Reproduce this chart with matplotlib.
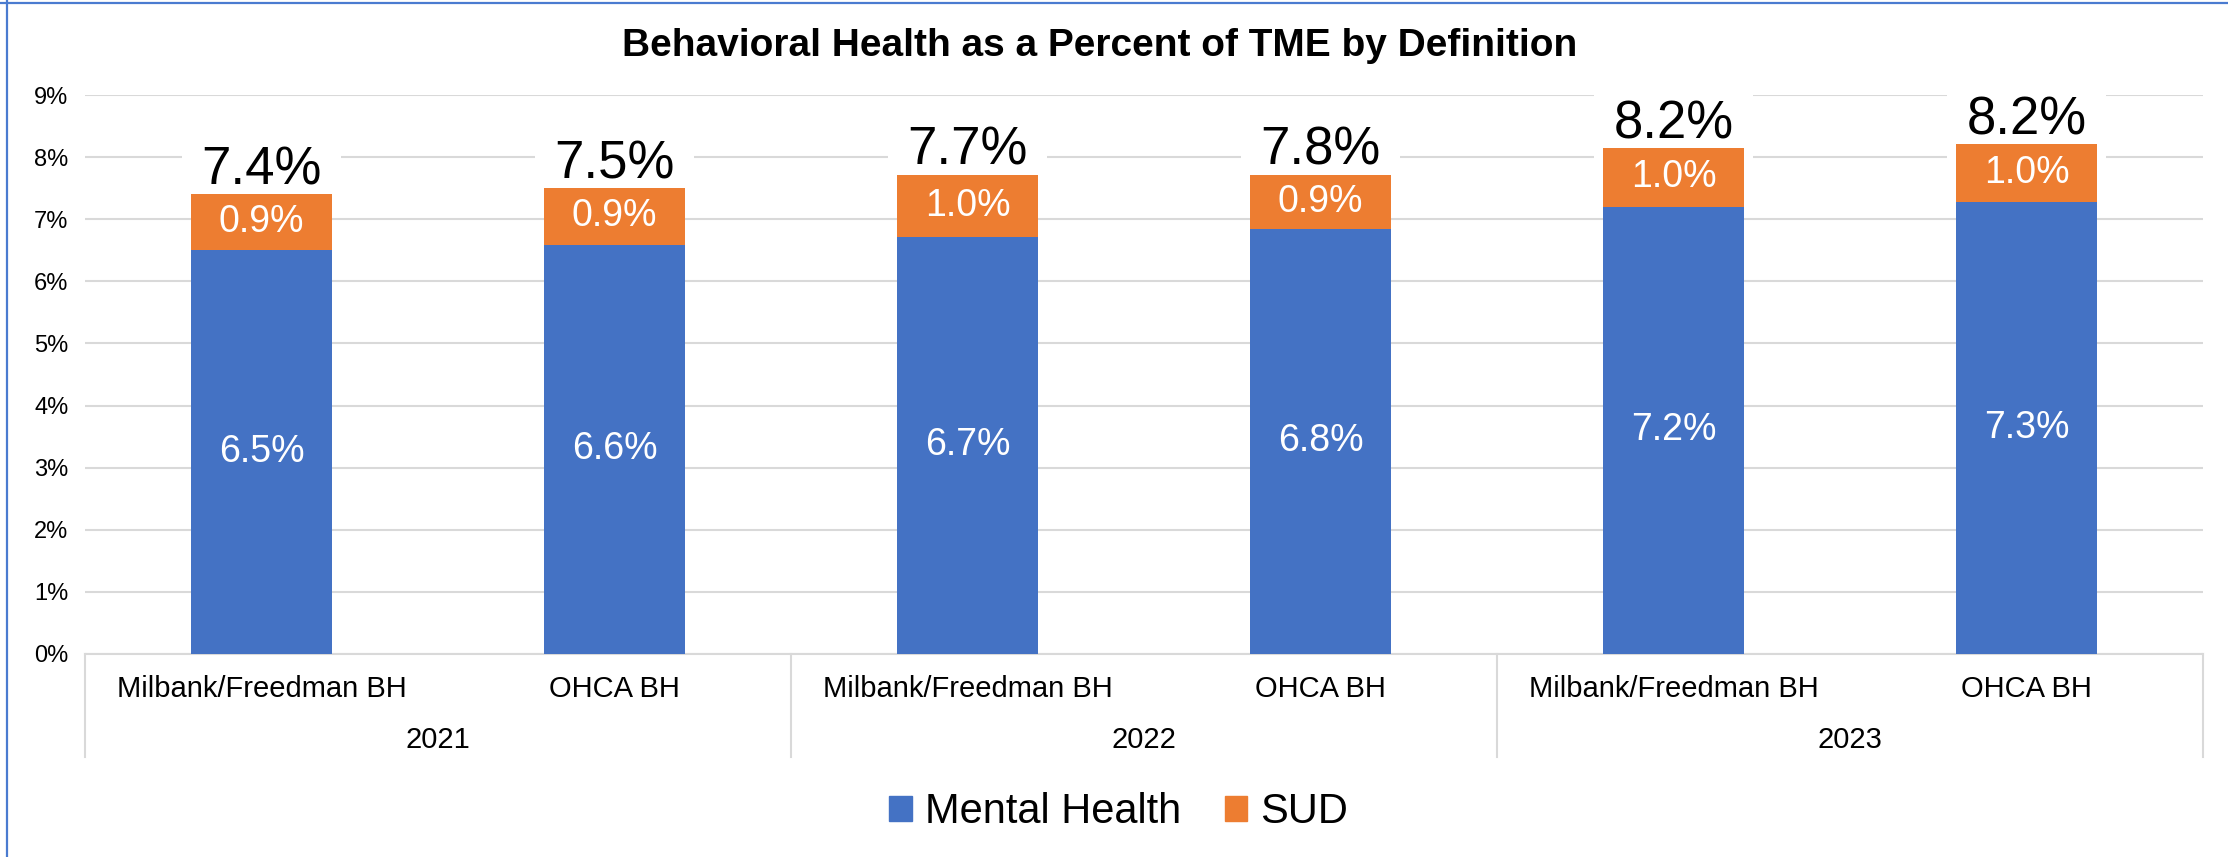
import matplotlib.pyplot as plt
from matplotlib.lines import Line2D
from matplotlib.patches import Patch

plt.rcParams['font.family'] = ['Liberation Sans', 'DejaVu Sans']

# data
bar_labels = ['Milbank/Freedman BH', 'OHCA BH'] * 3
years = ['2021', '2022', '2023']
mental_health = [6.5, 6.59, 6.72, 6.85, 7.2, 7.27]
sud = [0.9, 0.91, 1.0, 0.87, 0.95, 0.94]
mh_text = ['6.5%', '6.6%', '6.7%', '6.8%', '7.2%', '7.3%']
sud_text = ['0.9%', '0.9%', '1.0%', '0.9%', '1.0%', '1.0%']
total_text = ['7.4%', '7.5%', '7.7%', '7.8%', '8.2%', '8.2%']

blue = '#4472C4'
orange = '#ED7D31'
grid_c = '#D9D9D9'

fig = plt.figure(figsize=(22.28, 8.57), dpi=100)
ax = fig.add_axes([85 / 2228, 1 - 654 / 857, (2203 - 85) / 2228, (654 - 95) / 857])

x = list(range(len(bar_labels)))
ax.bar(x, mental_health, width=0.4, color=blue, zorder=3, label='Mental Health')
ax.bar(x, sud, width=0.4, bottom=mental_health, color=orange, zorder=3, label='SUD')

for i in x:
    top = mental_health[i] + sud[i]
    ax.text(i, mental_health[i] / 2, mh_text[i], ha='center', va='center',
            color='white', fontsize=27, zorder=4)
    ax.text(i, mental_health[i] + sud[i] / 2, sud_text[i], ha='center', va='center',
            color='white', fontsize=27, zorder=4)
    ax.annotate(total_text[i], (i, top), xytext=(0, 7), textcoords='offset points',
                ha='center', va='baseline', fontsize=38, color='black', zorder=2,
                bbox=dict(facecolor='white', edgecolor='none', pad=14))

ax.set_xlim(-0.5, len(x) - 0.5)
ax.set_ylim(0, 9)
ax.set_yticks(range(0, 10))
ax.set_yticklabels([f'{v}%' for v in range(0, 10)], fontsize=17)
ax.tick_params(axis='y', length=0, pad=12)
ax.set_xticks([])
ax.yaxis.grid(True, color=grid_c, linewidth=1.5, zorder=0)
ax.set_axisbelow(True)
for s in ['top', 'right', 'left']:
    ax.spines[s].set_visible(False)
ax.spines['bottom'].set_color(grid_c)
ax.spines['bottom'].set_linewidth(1.5)

# multi-level category axis
trans = ax.get_xaxis_transform()
for i in x:
    ax.text(i, -0.0626, bar_labels[i], transform=trans, ha='center', va='center', fontsize=21)
for k, yr in enumerate(years):
    ax.text(2 * k + 0.5, -0.154, yr, transform=trans, ha='center', va='center', fontsize=21)
for b in [-0.5, 1.5, 3.5, 5.5]:
    ax.plot([b, b], [0, -0.184], transform=trans, color=grid_c, linewidth=1.5, clip_on=False)

fig.text(0.4935, 1 - 46 / 857, 'Behavioral Health as a Percent of TME by Definition',
         ha='center', va='center', fontsize=28, fontweight='bold')

handles = [Patch(color=blue), Patch(color=orange)]
fig.legend(handles, ['Mental Health', 'SUD'], loc='center', bbox_to_anchor=(0.502, 1 - 812 / 857),
           ncol=2, frameon=False, fontsize=30, handlelength=0.55, handleheight=0.55,
           handletextpad=0.3, columnspacing=1.05)

# chart border (left and top edges visible)
fig.add_artist(Line2D([0, 1], [1 - 2.5 / 857] * 2, transform=fig.transFigure, color='#4A7BD0', linewidth=1.6))
fig.add_artist(Line2D([7 / 2228] * 2, [0, 1], transform=fig.transFigure, color='#4A7BD0', linewidth=1.6))

fig.savefig('out.png', dpi=100)
